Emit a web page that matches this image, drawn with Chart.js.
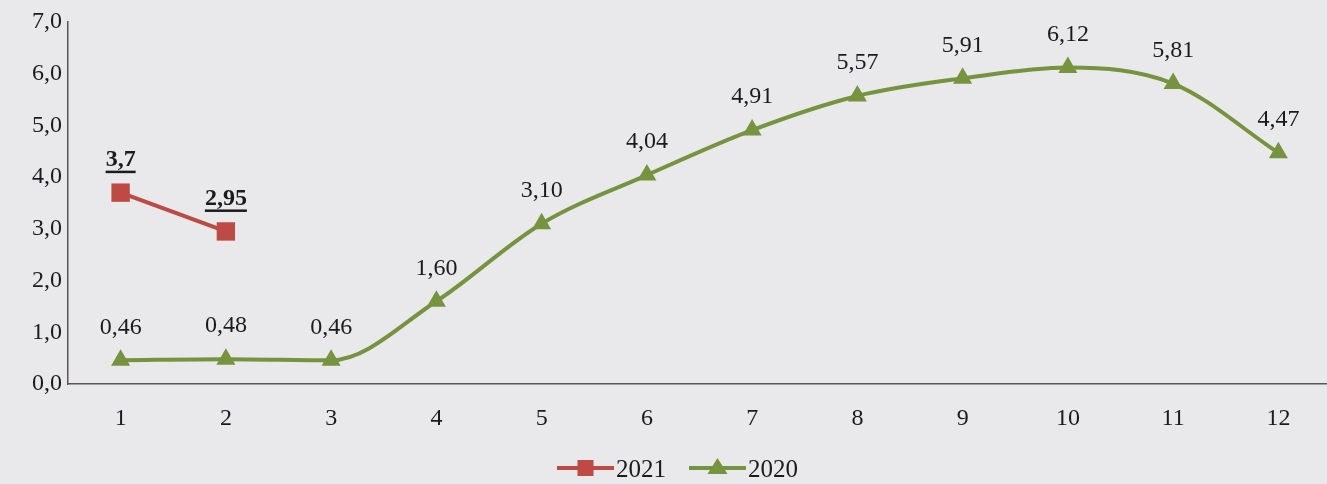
<!DOCTYPE html>
<html>
<head>
<meta charset="utf-8">
<script src="https://cdn.jsdelivr.net/npm/chart.js@4"></script>
<style>
  html, body { margin: 0; padding: 0; overflow: hidden; background: #e9e8ea; }
  canvas { display: block; }
</style>
</head>
<body>
<canvas id="c" width="1344" height="484"></canvas>
<script>
const categories = ['1','2','3','4','5','6','7','8','9','10','11','12'];
const series2021 = [3.7, 2.95, null, null, null, null, null, null, null, null, null, null];
const labels2021 = ['3,7', '2,95'];
const series2020 = [0.46, 0.48, 0.46, 1.60, 3.10, 4.04, 4.91, 5.57, 5.91, 6.12, 5.81, 4.47];
const labels2020 = ['0,46','0,48','0,46','1,60','3,10','4,04','4,91','5,57','5,91','6,12','5,81','4,47'];
const yTicks = [0, 1, 2, 3, 4, 5, 6, 7];

const RED = '#bd4a45';
const GREEN = '#76933f';
const FONT = '"Liberation Serif", "Times New Roman", serif';
const TEXT = '#1b1b1b';

const labelPlugin = {
  id: 'valueLabels',
  afterDatasetsDraw(chart) {
    const ctx = chart.ctx;
    chart.data.datasets.forEach((ds, di) => {
      const meta = chart.getDatasetMeta(di);
      meta.data.forEach((pt, i) => {
        const txt = ds.valueLabels[i];
        if (ds.data[i] == null || !txt) return;
        ctx.save();
        ctx.font = (ds.boldLabels ? 'bold ' : '') + '24px ' + FONT;
        ctx.fillStyle = TEXT;
        ctx.textAlign = 'center';
        ctx.textBaseline = 'middle';
        const y = pt.y - 33;
        ctx.fillText(txt, pt.x, y);
        if (ds.boldLabels) {
          const w = ctx.measureText(txt).width;
          ctx.fillRect(pt.x - w / 2, y + 11, w, 2.5);
        }
        ctx.restore();
      });
    });
  }
};

const legendPlugin = {
  id: 'customLegend',
  afterDraw(chart) {
    const ctx = chart.ctx;
    const y = 468;
    const items = [
      { x: 557, ds: chart.data.datasets[0] },
      { x: 689, ds: chart.data.datasets[1] }
    ];
    items.forEach(it => {
      const ds = it.ds;
      ctx.save();
      ctx.strokeStyle = ds.borderColor;
      ctx.lineWidth = 4;
      ctx.beginPath();
      ctx.moveTo(it.x, y);
      ctx.lineTo(it.x + 57, y);
      ctx.stroke();
      ctx.fillStyle = ds.borderColor;
      const cx = it.x + 28.5;
      if (ds.pointStyle === 'rect') {
        ctx.fillRect(cx - 8, y - 8, 16, 16);
      } else {
        ctx.beginPath();
        ctx.moveTo(cx, y - 10);
        ctx.lineTo(cx + 10, y + 6);
        ctx.lineTo(cx - 10, y + 6);
        ctx.closePath();
        ctx.fill();
      }
      ctx.font = '25px ' + FONT;
      ctx.fillStyle = TEXT;
      ctx.textAlign = 'left';
      ctx.textBaseline = 'middle';
      ctx.fillText(ds.label, it.x + 59, y + 2);
      ctx.restore();
    });
  }
};

new Chart(document.getElementById('c'), {
  type: 'line',
  data: {
    labels: categories,
    datasets: [
      {
        label: '2021',
        data: series2021,
        valueLabels: labels2021,
        boldLabels: true,
        borderColor: RED,
        backgroundColor: RED,
        borderWidth: 4,
        pointStyle: 'rect',
        pointRadius: 13,
        pointHoverRadius: 13,
        pointBorderWidth: 0,
        tension: 0,
        spanGaps: false
      },
      {
        label: '2020',
        data: series2020,
        valueLabels: labels2020,
        boldLabels: false,
        borderColor: GREEN,
        backgroundColor: GREEN,
        borderWidth: 4,
        pointStyle: 'triangle',
        pointRadius: 11,
        pointHoverRadius: 11,
        pointBorderWidth: 0,
        cubicInterpolationMode: 'monotone'
      }
    ]
  },
  options: {
    responsive: false,
    animation: false,
    events: [],
    layout: { padding: { top: 22, right: 0, bottom: 50, left: 0 } },
    plugins: {
      legend: { display: false },
      tooltip: { enabled: false }
    },
    scales: {
      x: {
        offset: true,
        grid: { display: false, drawTicks: false, offset: true },
        border: { display: true, color: '#5a5556', width: 1.5 },
        ticks: {
          color: TEXT,
          font: { family: FONT, size: 24 },
          padding: 20,
          maxRotation: 0
        },
        afterFit(scale) { scale.height = 50; scale.paddingLeft = 0; scale.paddingRight = 0; }
      },
      y: {
        min: 0,
        max: 7,
        grid: { display: false, drawTicks: false },
        border: { display: true, color: '#5a5556', width: 1.5 },
        afterBuildTicks(scale) { scale.ticks = yTicks.map(v => ({ value: v })); },
        ticks: {
          color: TEXT,
          font: { family: FONT, size: 24 },
          padding: 6,
          callback: v => v.toFixed(1).replace('.', ',')
        },
        afterFit(scale) { scale.width = 68; }
      }
    }
  },
  plugins: [labelPlugin, legendPlugin]
});
</script>
</body>
</html>
